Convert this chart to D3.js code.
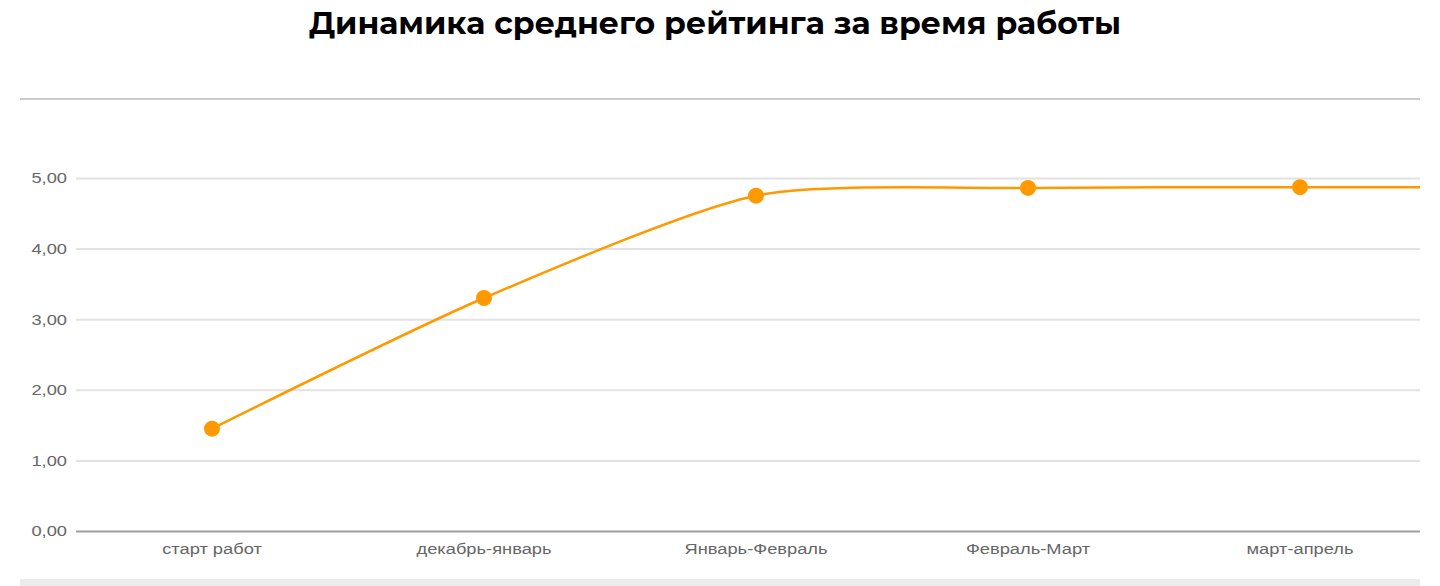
<!DOCTYPE html>
<html>
<head>
  <meta charset="utf-8">
  <style>
    body { margin: 0; background: #fff; }
    .title { font-family: "Montserrat", "Inter", sans-serif; font-weight: 700; font-size: 31.5px; fill: #000; }
    .tick text { font-family: "Liberation Sans", Arial, sans-serif; font-size: 15px; fill: #666; }
  </style>
  <script src="https://cdn.jsdelivr.net/npm/d3@7"></script>
</head>
<body>
<script>
// data
var categories = ["старт работ", "декабрь-январь", "Январь-Февраль", "Февраль-Март", "март-апрель"];
var ratings = [1.45, 3.30, 4.75, 4.86, 4.87];
var yTicks = [0, 1, 2, 3, 4, 5];

var W = 1440, H = 586;
var plotLeft = 76, plotRight = 1420, plotTop = 99, plotBottom = 531;
var stretch = 1.22; // tick labels look horizontally stretched in the original

var svg = d3.select("body").append("svg")
    .attr("width", W)
    .attr("height", H);

svg.append("text")
    .attr("class", "title")
    .attr("x", 715)
    .attr("y", 34)
    .attr("text-anchor", "middle")
    .text("Динамика среднего рейтинга за время работы");

// frame lines
svg.append("line")
    .attr("x1", 20).attr("x2", plotRight)
    .attr("y1", plotTop).attr("y2", plotTop)
    .attr("stroke", "#cccccc").attr("stroke-width", 2);
svg.append("rect")
    .attr("x", 20).attr("y", 579)
    .attr("width", plotRight - 20).attr("height", 7)
    .attr("fill", "#ececec");

var x = d3.scaleBand()
    .domain(categories)
    .range([plotLeft, plotLeft + 272 * categories.length]);

var y = d3.scaleLinear()
    .domain([0, 5])
    .range([plotBottom, 178]);

// y axis with grid
var yAxis = svg.append("g")
    .attr("transform", "translate(" + plotLeft + ",0)")
    .call(d3.axisLeft(y)
        .tickValues(yTicks)
        .tickSize(0)
        .tickPadding(0)
        .tickFormat(function(d) { return d3.format(".2f")(d).replace(".", ","); }));
yAxis.select(".domain").remove();
yAxis.selectAll(".tick line")
    .attr("x2", plotRight - plotLeft)
    .attr("stroke", function(d) { return d === 0 ? "#9e9e9e" : "#e2e2e2"; })
    .attr("stroke-width", 2);
yAxis.selectAll(".tick text")
    .attr("x", -9 / stretch)
    .attr("transform", "scale(" + stretch + ",1)");

// x axis labels
var xAxis = svg.append("g")
    .attr("transform", "translate(0," + plotBottom + ")")
    .call(d3.axisBottom(x).tickSize(0).tickPadding(12));
xAxis.select(".domain").remove();
xAxis.selectAll(".tick text")
    .attr("transform", "scale(" + stretch + ",1)");

// line (clipped at the chart edge)
svg.append("clipPath").attr("id", "clip")
  .append("rect")
    .attr("x", plotLeft).attr("y", plotTop)
    .attr("width", plotRight - plotLeft).attr("height", plotBottom - plotTop);

var pts = categories.map(function(c, i) {
    return [x(c) + x.bandwidth() / 2, y(ratings[i])];
});
// the series runs on to the right edge of the plot
pts.push([plotRight + 40, y(ratings[ratings.length - 1])]);

svg.append("path")
    .attr("clip-path", "url(#clip)")
    .attr("d", d3.line().curve(d3.curveCardinal.tension(0.3))(pts))
    .attr("fill", "none")
    .attr("stroke", "#ff9900")
    .attr("stroke-width", 2.5);

svg.selectAll(".dot")
    .data(ratings)
  .enter().append("circle")
    .attr("class", "dot")
    .attr("cx", function(d, i) { return x(categories[i]) + x.bandwidth() / 2; })
    .attr("cy", function(d) { return y(d); })
    .attr("r", 8)
    .attr("fill", "#ff9900");
</script>
</body>
</html>
